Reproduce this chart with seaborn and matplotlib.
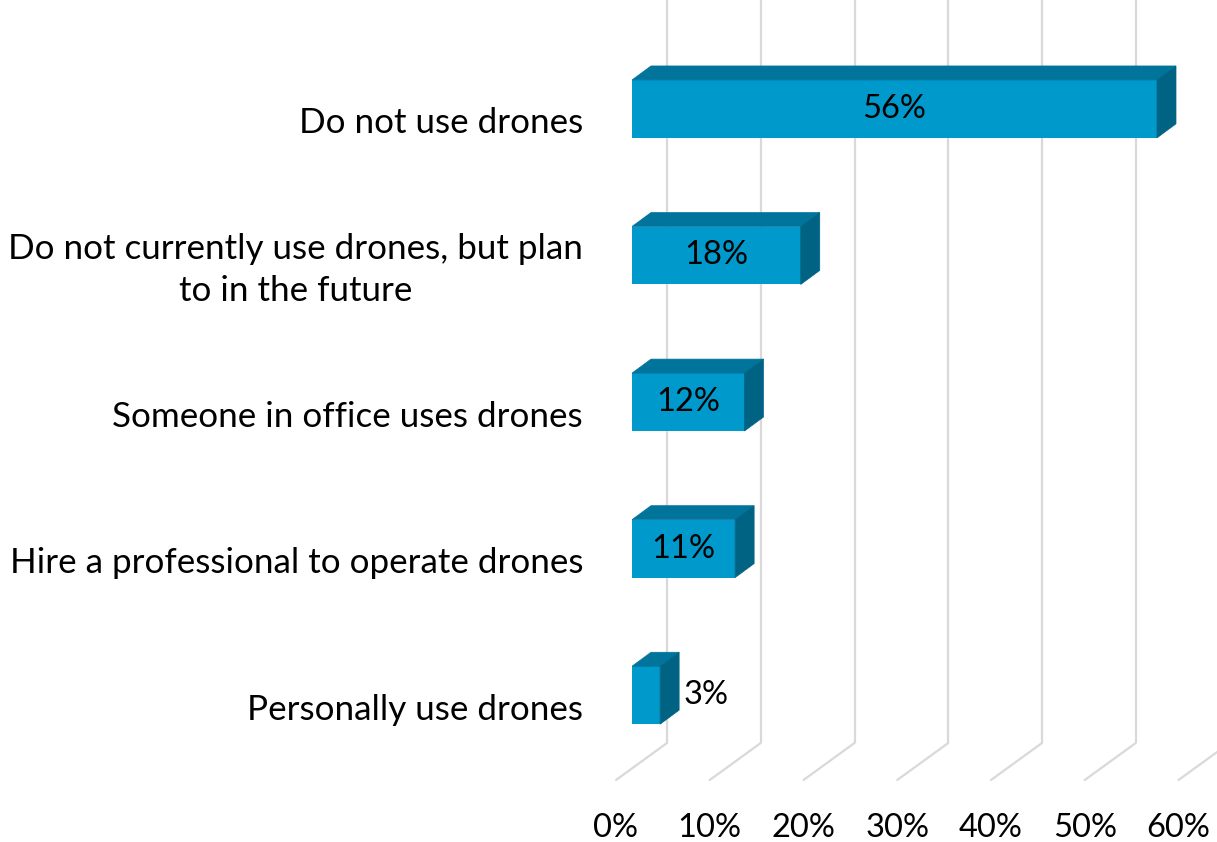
import matplotlib
matplotlib.use("Agg")
import matplotlib.pyplot as plt
import seaborn as sns
import pandas as pd
from matplotlib.patches import Polygon

# Survey answers and their shares (percent)
categories = [
    "Do not use drones",
    "Do not currently use drones, but plan\nto in the future",
    "Someone in office uses drones",
    "Hire a professional to operate drones",
    "Personally use drones",
]
shares = [56, 18, 12, 11, 3]
tick_values = [0, 10, 20, 30, 40, 50, 60]
tick_labels = ["0%", "10%", "20%", "30%", "40%", "50%", "60%"]

FRONT = "#0099CC"
TOP = "#00749B"
SIDE = "#006383"
GRID = "#D9D9D9"

sns.set_theme(style="white")
plt.rcParams["font.family"] = ["Lato", "DejaVu Sans"]
FS_CAT = 25.2
FS_NUM = 23.5

W, H = 1217, 842
fig = plt.figure(figsize=(W / 100, H / 100), dpi=100)
fig.patch.set_facecolor("white")

# axes placed on the plane of the bar fronts
ax_left, ax_right, ax_top, ax_bottom = 632, 1194.5, 0, 768.5
ax = fig.add_axes([ax_left / W, 1 - ax_bottom / H,
                   (ax_right - ax_left) / W, (ax_bottom - ax_top) / H])

df = pd.DataFrame({"category": categories, "share": shares})
sns.barplot(data=df, x="share", y="category", orient="h", width=0.395,
            color=FRONT, saturation=1, ax=ax, zorder=3, linewidth=0)

xmax = 60
y_floor, y_top = 4.5, -0.743
ax.set_xlim(0, xmax)
ax.set_ylim(y_floor, y_top)
ax.axis("off")

# pixel -> data conversions for the oblique depth offsets
px_x = ax.bbox.width / xmax
px_y = ax.bbox.height / (y_floor - y_top)


def ox(px):
    return px / px_x


def oy(up_px):
    return -up_px / px_y


# floor front edge and back wall relative to the bar-front plane
front_dx, front_up = -16, -11.5
back_dx, back_up = 35, 25.5
bar_dx, bar_up = 19, 14

# back wall grid and floor lines
for v in tick_values:
    bx = v + ox(back_dx)
    ax.plot([bx, bx], [y_floor + oy(back_up), y_top + oy(back_up) - 0.2],
            color=GRID, lw=1.6, zorder=1, clip_on=False, solid_capstyle="butt")
    ax.plot([v + ox(front_dx), bx],
            [y_floor + oy(front_up), y_floor + oy(back_up)],
            color=GRID, lw=1.6, zorder=1, clip_on=False)

# top and side faces of each bar
for patch, val in zip(ax.patches, shares):
    x0, y0 = patch.get_x(), patch.get_y()
    w, h = patch.get_width(), patch.get_height()
    dx, dy = ox(bar_dx), oy(bar_up)
    top = Polygon([(x0, y0), (x0 + w, y0), (x0 + w + dx, y0 + dy), (x0 + dx, y0 + dy)],
                  closed=True, facecolor=TOP, edgecolor=TOP, lw=0.5, zorder=3)
    side = Polygon([(x0 + w, y0), (x0 + w, y0 + h), (x0 + w + dx, y0 + h + dy),
                    (x0 + w + dx, y0 + dy)],
                   closed=True, facecolor=SIDE, edgecolor=SIDE, lw=0.5, zorder=3)
    ax.add_patch(top)
    ax.add_patch(side)
    yc = y0 + h / 2
    if val >= 5:
        ax.text(x0 + w / 2, yc, f"{val}%", ha="center", va="center",
                fontsize=FS_NUM, color="black", zorder=4)
    else:
        ax.text(x0 + w + dx + ox(4), yc, f"{val}%", ha="left", va="center",
                fontsize=FS_NUM, color="black", zorder=4)

# category labels on the floor-front plane
for i, cat in enumerate(categories):
    ax.text(ox(front_dx - 33), i + oy(front_up - 3), cat, ha="right", va="center",
            multialignment="center", fontsize=FS_CAT, color="black", clip_on=False,
            linespacing=1.4)

# percent tick labels under the floor front edge
for v, lab in zip(tick_values, tick_labels):
    ax.text(v + ox(front_dx), y_floor + (828 - ax_bottom) / px_y, lab,
            ha="center", va="center", fontsize=FS_NUM, color="black", clip_on=False)

fig.savefig("out.png", dpi=100, facecolor="white")
